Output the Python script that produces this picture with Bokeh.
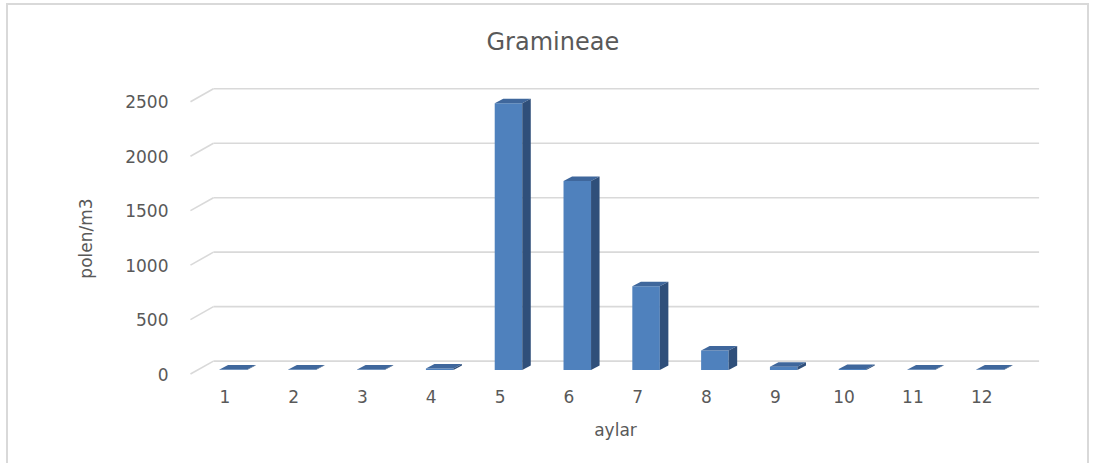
import numpy as np
from bokeh.plotting import figure
from bokeh.models import ColumnDataSource, Range1d, FixedTicker
from bokeh.embed import file_html
from bokeh.resources import INLINE

# ---- data ----
months = ["1", "2", "3", "4", "5", "6", "7", "8", "9", "10", "11", "12"]
values = [5, 5, 5, 15, 2450, 1735, 770, 180, 30, 10, 5, 5]
y_ticks = [0, 500, 1000, 1500, 2000, 2500]
title_text = "Gramineae"
x_title = "aylar"
y_title = "polen/m3"

# ---- pseudo-3D geometry (in data units) ----
BACK_DX, BACK_DY = 0.334, 119      # offset of back wall vs. front plane
BAR_SHIFT, BAR_HALF = 0.122, 0.2   # bar front face position / half width
BAR_DX, BAR_DY = 0.124, 41         # bar depth
BAR_BASE = 37

xi = np.arange(1, len(months) + 1, dtype=float)
v = np.array(values, dtype=float)
cx = xi + BAR_SHIFT
l = cx - BAR_HALF
r = cx + BAR_HALF
b = np.full_like(v, BAR_BASE)
t = b + v

front = ColumnDataSource(dict(left=l, right=r, bottom=b, top=t))
top_face = ColumnDataSource(dict(
    xs=[[a, c, c + BAR_DX, a + BAR_DX] for a, c in zip(l, r)],
    ys=[[h, h, h + BAR_DY, h + BAR_DY] for h in t],
))
side_face = ColumnDataSource(dict(
    xs=[[c, c + BAR_DX, c + BAR_DX, c] for c in r],
    ys=[[lo, lo + BAR_DY, h + BAR_DY, h] for lo, h in zip(b, t)],
))

gv = np.array(y_ticks, dtype=float)
x_first = 0.5
x_last = len(months) + 0.5
grid_back = ColumnDataSource(dict(
    x0=np.full_like(gv, x_first + BACK_DX), x1=np.full_like(gv, x_last + BACK_DX),
    y0=gv + BACK_DY, y1=gv + BACK_DY))
grid_stub = ColumnDataSource(dict(
    x0=np.full_like(gv, x_first), x1=np.full_like(gv, x_first + BACK_DX),
    y0=gv, y1=gv + BACK_DY))

TEXT = "#595959"
FONT = "DejaVu Sans"

p = figure(width=1083, height=460, output_backend="svg", toolbar_location=None,
           x_range=Range1d(0.355, 13.0), y_range=Range1d(-298, 2787),
           min_border_left=172, min_border_right=41, min_border_top=65,
           min_border_bottom=59)
p.styles = {"margin-left": "6px", "margin-top": "3px",
            "border-top": "2px solid #d9d9d9", "border-left": "2px solid #d9d9d9",
            "border-right": "2px solid #d9d9d9"}
p.outline_line_color = None
p.grid.visible = False
p.background_fill_color = "white"
p.border_fill_color = "white"

p.segment("x0", "y0", "x1", "y1", source=grid_back, line_color="#d9d9d9", line_width=1.6)
p.segment("x0", "y0", "x1", "y1", source=grid_stub, line_color="#d9d9d9", line_width=1.6)

p.quad(left="left", right="right", bottom="bottom", top="top", source=front,
       fill_color="#4f81bd", line_color=None)
p.patches("xs", "ys", source=top_face, fill_color="#3f679c", line_color=None)
p.patches("xs", "ys", source=side_face, fill_color="#2f4f7a", line_color=None)

# title
p.title.text = title_text
p.title.align = "left"
p.title.offset = 306
p.title.text_font = FONT
p.title.text_font_size = "24px"
p.title.text_font_style = "normal"
p.title.text_color = TEXT
p.title.standoff = 30

# axes
for ax in (p.xaxis[0], p.yaxis[0]):
    ax.axis_line_color = None
    ax.major_tick_line_color = None
    ax.minor_tick_line_color = None
    ax.major_tick_in = 0
    ax.major_tick_out = 0
    ax.major_label_text_font = FONT
    ax.major_label_text_font_size = "17px"
    ax.major_label_text_color = TEXT
    ax.axis_label_text_font = FONT
    ax.axis_label_text_font_size = "17px"
    ax.axis_label_text_font_style = "normal"
    ax.axis_label_text_color = TEXT

p.xaxis.ticker = FixedTicker(ticks=list(xi))
p.xaxis.major_label_overrides = {float(i): m for i, m in zip(xi, months)}
p.xaxis.major_label_standoff = -17
p.xaxis.axis_label = x_title
p.xaxis.axis_label_standoff = 14

p.yaxis.ticker = FixedTicker(ticks=y_ticks)
p.yaxis.major_label_standoff = 12
p.yaxis.axis_label = y_title
p.yaxis.axis_label_standoff = 26

open("out.html", "w").write(file_html(p, INLINE))
